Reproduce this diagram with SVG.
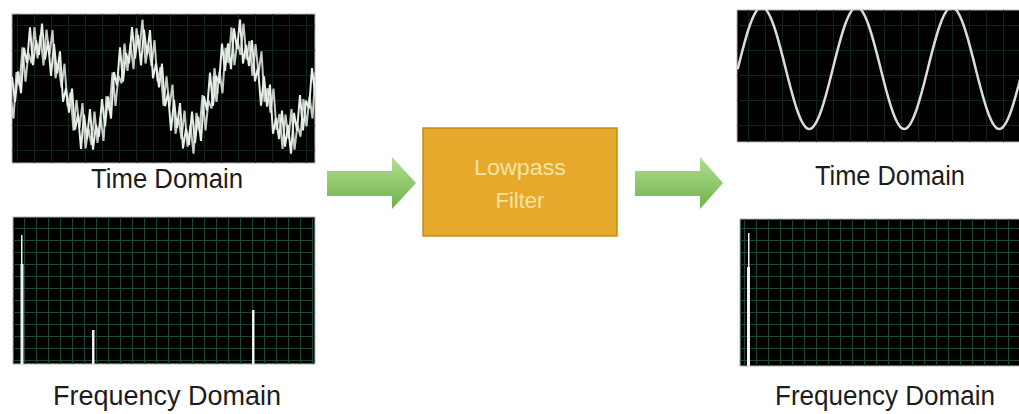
<svg xmlns="http://www.w3.org/2000/svg" xmlns:xlink="http://www.w3.org/1999/xlink" width="1019" height="414" viewBox="0 0 1019 414">
  <defs>
    <style>
      .panel { fill: #000; stroke: #b8b8b8; stroke-width: 1; }
      .label { font-family: "Liberation Sans", Arial, sans-serif; font-size: 27px; fill: #1c1c1c; text-anchor: middle; }
      .ftext { font-family: "Liberation Sans", Arial, sans-serif; font-size: 22px; fill: #f5e3a0; text-anchor: middle; }
      .spike { fill: #f2f2f2; }
      .arrow { fill: url(#green); }
      .noisy { fill: none; stroke: #e6efe6; stroke-width: 2; stroke-linejoin: miter; }
    </style>
    <pattern id="gridFine" width="12" height="12" patternUnits="userSpaceOnUse">
      <path d="M0.5 0 V12 M0 0.5 H12" stroke="#1d4a2e" stroke-width="1" fill="none"/>
    </pattern>
    <pattern id="gridFaint" width="17" height="25" patternUnits="userSpaceOnUse">
      <path d="M0.5 0 V25 M0 0.5 H17" stroke="#0f2618" stroke-width="1" fill="none"/>
    </pattern>
    <linearGradient id="green" x1="0" y1="0" x2="0" y2="1">
      <stop offset="0" stop-color="#b3de92"/>
      <stop offset="1" stop-color="#6db348"/>
    </linearGradient>
    <clipPath id="clipTL"><rect x="12" y="14" width="303" height="149"/></clipPath>
    <clipPath id="clipTR"><rect x="737" y="10" width="282" height="132"/></clipPath>
    <polyline id="noisy" class="noisy"
      points="12,76.5 15,102 18,71.5 21,93.3 24,47.7 27,63 30,27.3 33,65.1 36,40.3 39,55 42,23.5 45,59.5 48,41 51,76 54,44.2 57,73.4 60,51.3 63,101.7 66,88.3 69,112.7 72,88.6 75,129.8 78,114 81,149 84,114.5 87,138.6 90,109 93,149.7 96,124.9 99,136.7 102,99 105,126.3 108,96.7 111,118.5 114,72 117,85.5 120,47.3 123,81.7 126,53 129,63.3 132,27.1 135,58.3 138,35 141,65.5 144,29.5 147,55 150,30 153,78.2 156,63.4 159,87.3 162,63.7 165,106.3 168,92.7 171,130.6 174,99.8 177,128 180,103 183,148.5 186,128.6 189,145 192,111.7 195,142.9 198,116.7 201,141 204,96.3 207,110.7 210,72.5 213,106 216,75.5 219,83.3 222,43.7 225,71 228,43.3 231,69.1 234,28.3 237,49 240,19.5 243,63.5 246,45 249,66 252,40.2 255,81.4 258,67.3 261,105.7 264,76.3 267,106.7 270,84.6 273,133.8 276,118 279,139 282,110.5 285,146.6 288,125 291,153.7 294,112.9 297,130.7 300,95 303,130.3 306,100.7 309,108.5 312,68 315,93.5"/>
  </defs>
  <rect width="1019" height="414" fill="#ffffff"/>

  <g id="input-time">
    <rect class="panel" x="12" y="14" width="303" height="149"/>
    <rect x="12" y="14" width="303" height="149" fill="url(#gridFaint)"/>
    <g clip-path="url(#clipTL)">
      <use xlink:href="#noisy" href="#noisy" transform="translate(-97.5,0)" opacity="0.85"/>
      <use xlink:href="#noisy" href="#noisy" transform="translate(201.5,0)" opacity="0.85"/>
      <use xlink:href="#noisy" href="#noisy"/>
    </g>
    <text class="label" x="167" y="188" textLength="152" lengthAdjust="spacingAndGlyphs">Time Domain</text>
  </g>

  <g id="input-frequency">
    <rect class="panel" x="13" y="217" width="302" height="147"/>
    <rect x="13" y="217" width="302" height="147" fill="url(#gridFine)"/>
    <rect class="spike" x="21" y="235" width="1.5" height="30"/>
    <rect class="spike" x="20.5" y="264" width="3" height="100"/>
    <rect class="spike" x="92" y="330" width="2.5" height="34"/>
    <rect class="spike" x="252" y="310" width="2.5" height="54"/>
    <text class="label" x="167" y="405" textLength="228" lengthAdjust="spacingAndGlyphs">Frequency Domain</text>
  </g>

  <g id="lowpass-filter">
    <rect x="423" y="128" width="194" height="108" fill="#e7a92b" stroke="#c48d1f" stroke-width="1.5"/>
    <text class="ftext" x="520" y="175" textLength="92" lengthAdjust="spacingAndGlyphs">Lowpass</text>
    <text class="ftext" x="520" y="208">Filter</text>
  </g>

  <g id="output-time">
    <rect class="panel" x="737" y="10" width="283" height="132"/>
    <rect x="737" y="10" width="283" height="132" fill="url(#gridFaint)"/>
    <path clip-path="url(#clipTR)" fill="none" stroke="#dcdcdc" stroke-width="2.5"
      d="M737,68 L738,68 C745.7,36.75 753.5,7 761.75,7 S777.75,36.75 785.5,68 S801,129 809.25,129 S825.25,99.25 833,68 S848.5,7 856.75,7 S872.75,36.75 880.5,68 S896,129 904.25,129 S920.25,99.25 928,68 S943.5,7 951.75,7 S967.75,36.75 975.5,68 S991,129 999.25,129 S1015.25,99.25 1023,68"/>
    <text class="label" x="890" y="185" textLength="150" lengthAdjust="spacingAndGlyphs">Time Domain</text>
  </g>

  <g id="output-frequency">
    <rect class="panel" x="740" y="219" width="280" height="147"/>
    <rect x="740" y="219" width="280" height="147" fill="url(#gridFine)"/>
    <rect class="spike" x="748" y="233" width="1.5" height="35"/>
    <rect class="spike" x="747" y="267" width="3" height="99"/>
    <text class="label" x="885" y="405" textLength="220" lengthAdjust="spacingAndGlyphs">Frequency Domain</text>
  </g>

  <g id="connectors">
    <polygon class="arrow" points="327,171 392,171 392,157 416,183 392,209 392,196 327,196"/>
    <polygon class="arrow" points="635,171 700,171 700,157 723,183 700,209 700,196 635,196"/>
  </g>
</svg>
